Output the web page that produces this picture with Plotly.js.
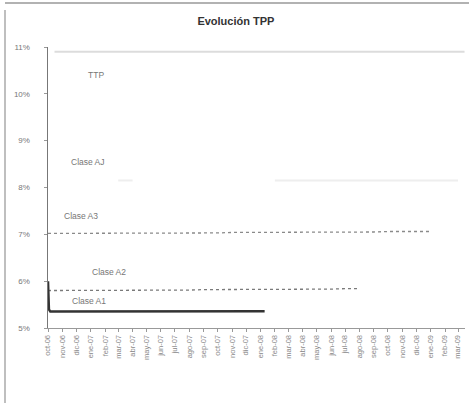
<!DOCTYPE html>
<html><head><meta charset="utf-8">
<script src="https://cdn.plot.ly/plotly-3.0.1.min.js"></script>
<style>html,body{margin:0;padding:0;background:#fff}</style>
</head><body><div id="chart" style="width:469px;height:403px"></div>
<script>
const months = ["oct-06","nov-06","dic-06","ene-07","feb-07","mar-07","abr-07","may-07","jun-07","jul-07","ago-07","sep-07","oct-07","nov-07","dic-07","ene-08","feb-08","mar-08","abr-08","may-08","jun-08","jul-08","ago-08","sep-08","oct-08","nov-08","dic-08","ene-09","feb-09","mar-09"];
const monthDates = ["2006-10-01","2006-11-01","2006-12-01","2007-01-01","2007-02-01","2007-03-01","2007-04-01","2007-05-01","2007-06-01","2007-07-01","2007-08-01","2007-09-01","2007-10-01","2007-11-01","2007-12-01","2008-01-01","2008-02-01","2008-03-01","2008-04-01","2008-05-01","2008-06-01","2008-07-01","2008-08-01","2008-09-01","2008-10-01","2008-11-01","2008-12-01","2009-01-01","2009-02-01","2009-03-01"];
const tppDates = ["2006-10-15","2006-11-01","2006-12-01","2007-01-01","2007-02-01","2007-03-01","2007-04-01","2007-05-01","2007-06-01","2007-07-01","2007-08-01","2007-09-01","2007-10-01","2007-11-01","2007-12-01","2008-01-01","2008-02-01","2008-03-01","2008-04-01","2008-05-01","2008-06-01","2008-07-01","2008-08-01","2008-09-01","2008-10-01","2008-11-01","2008-12-01","2009-01-01","2009-02-01","2009-03-01","2009-03-15"];
const tpp   = [10.9,10.9,10.9,10.9,10.9,10.9,10.9,10.9,10.9,10.9,10.9,10.9,10.9,10.9,10.9,10.9,10.9,10.9,10.9,10.9,10.9,10.9,10.9,10.9,10.9,10.9,10.9,10.9,10.9,10.9,10.9];
const claseAJ = [null,null,null,null,null,8.15,8.15,null,null,null,null,null,null,null,null,null,8.15,8.15,8.15,8.15,8.15,8.15,8.15,8.15,8.15,8.15,8.15,8.15,8.15,8.15];
const claseA3 = [7.02,7.02,7.02,7.02,7.02,7.02,7.02,7.03,7.03,7.03,7.03,7.03,7.03,7.04,7.04,7.04,7.04,7.04,7.04,7.04,7.05,7.05,7.05,7.05,7.06,7.06,7.06,7.06];
const claseA2 = [5.8,5.8,5.8,5.8,5.8,5.81,5.81,5.81,5.81,5.81,5.81,5.82,5.82,5.82,5.82,5.82,5.82,5.83,5.83,5.83,5.83,5.84,5.84];
const a1Dates = ["2006-10-01","2006-10-03","2006-10-06","2006-11-01","2006-12-01","2007-01-01","2007-02-01","2007-03-01","2007-04-01","2007-05-01","2007-06-01","2007-07-01","2007-08-01","2007-09-01","2007-10-01","2007-11-01","2007-12-01","2008-01-01","2008-01-10"];
const claseA1 = [6.0,5.4,5.35,5.35,5.35,5.35,5.35,5.35,5.35,5.35,5.35,5.35,5.36,5.36,5.36,5.36,5.36,5.36,5.36];
const yTicks = [5,6,7,8,9,10,11];
const yLabels = ["5%","6%","7%","8%","9%","10%","11%"];

const traces = [
  {x: tppDates, y: tpp, mode:"lines", line:{color:"#dcdcdc", width:2}, name:"TPP"},
  {x: monthDates, y: claseAJ, mode:"lines", line:{color:"#eeeeee", width:2}, name:"Clase AJ"},
  {x: monthDates.slice(0, claseA3.length), y: claseA3, mode:"lines", line:{color:"#8a8a8a", width:1.3, dash:"dot"}, name:"Clase A3"},
  {x: monthDates.slice(0, claseA2.length), y: claseA2, mode:"lines", line:{color:"#7a7a7a", width:1.3, dash:"dot"}, name:"Clase A2"},
  {x: a1Dates, y: claseA1, mode:"lines", line:{color:"#333", width:2.5}, name:"Clase A1"}
];
// paper coordinates relative to plot area (x: 48..465, y: 47..328 px)
const px = X => (X-48)/417, py = Y => (328-Y)/281;
const lab = (t,X,Y)=>({text:t, x:px(X), y:py(Y), xref:"paper", yref:"paper", xanchor:"left", yanchor:"middle", showarrow:false, font:{family:"Liberation Sans, Arial", size:8.5, color:"#777"}});
const layout = {
  width: 469, height: 403,
  margin:{l:48, r:4, t:47, b:75},
  paper_bgcolor:"#fff", plot_bgcolor:"#fff",
  showlegend:false,
  title:{text:"<b>Evolución TPP</b>", x:0.503, xanchor:"center", y:0.948, yanchor:"middle", font:{family:"Liberation Sans, Arial", size:11, color:"#333"}},
  xaxis:{type:"date", range:["2006-10-01","2009-03-16"], tickmode:"array", tickvals:monthDates, ticktext:months, tickangle:-90,
    tickfont:{family:"Liberation Sans, Arial", size:7.5, color:"#888"}, showgrid:false, zeroline:false,
    showline:true, linecolor:"#999", linewidth:1, ticks:"outside", ticklen:3, tickcolor:"#999"},
  yaxis:{range:[5,11], tickvals:yTicks, ticktext:yLabels, tickfont:{family:"Liberation Sans, Arial", size:8, color:"#777"},
    showgrid:false, zeroline:false, showline:true, linecolor:"#777", linewidth:1.5, ticks:"outside", ticklen:3, tickcolor:"#999", ticklabelstandoff:12},
  annotations:[
    lab("TTP", 86, 75),
    lab("Clase AJ", 69, 162),
    lab("Clase A3", 62, 216),
    lab("Clase A2", 90, 272),
    lab("Clase A1", 70, 301)
  ],
  shapes:[
    {type:"line", xref:"paper", yref:"paper", x0:px(5), x1:px(5), y0:py(10), y1:py(403), line:{color:"#aaa", width:1.5}},
    {type:"line", xref:"paper", yref:"paper", x0:px(5), x1:px(469), y0:py(3), y1:py(3), line:{color:"#999", width:1.5}}
  ]
};
Plotly.newPlot("chart", traces, layout, {displayModeBar:false, staticPlot:true});
</script></body></html>
